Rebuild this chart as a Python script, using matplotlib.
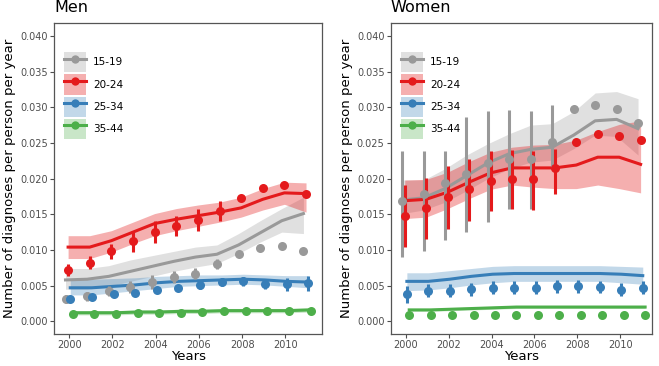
import numpy as np
import matplotlib
matplotlib.use("Agg")
import matplotlib.pyplot as plt
from matplotlib.patches import Patch
from matplotlib.lines import Line2D

nan = np.nan
years = np.arange(2000, 2012)
age_groups = ["15-19", "20-24", "25-34", "35-44"]
colori = ["#999999", "#e41a1c", "#377eb8", "#4daf4a"]

# ---- Men: observed points + error bars ----
men_obs_1519 = [0.0031, 0.0035, 0.0042, 0.0048, 0.0055, 0.0062, 0.0067, 0.0081, 0.0095, 0.0103, 0.0105, 0.0098]
men_elo_1519 = [0.0025, 0.0029, 0.0035, 0.0039, 0.0045, 0.0054, 0.0059, 0.0074, nan, nan, nan, nan]
men_ehi_1519 = [0.0037, 0.0041, 0.0049, 0.0057, 0.0065, 0.0070, 0.0075, 0.0088, nan, nan, nan, nan]
men_obs_2024 = [0.0072, 0.0082, 0.0098, 0.0112, 0.0125, 0.0133, 0.0142, 0.0155, 0.0173, 0.0187, 0.0191, 0.0179]
men_elo_2024 = [0.0063, 0.0073, 0.0087, 0.0097, 0.0110, 0.0119, 0.0127, 0.0141, nan, nan, nan, nan]
men_ehi_2024 = [0.0081, 0.0091, 0.0109, 0.0127, 0.0140, 0.0147, 0.0157, 0.0169, nan, nan, nan, nan]
men_obs_2534 = [0.0031, 0.0034, 0.0038, 0.0040, 0.0044, 0.0047, 0.0051, 0.0055, 0.0056, 0.0052, 0.0052, 0.0053]
men_elo_2534 = [0.0028, 0.0031, 0.0035, 0.0037, 0.0041, 0.0044, 0.0045, 0.0049, 0.0050, 0.0045, 0.0043, 0.0042]
men_ehi_2534 = [0.0034, 0.0037, 0.0041, 0.0043, 0.0047, 0.0050, 0.0057, 0.0061, 0.0062, 0.0059, 0.0061, 0.0064]
men_obs_3544 = [0.0010, 0.0010, 0.0010, 0.0011, 0.0011, 0.0012, 0.0013, 0.0014, 0.0014, 0.0014, 0.0014, 0.0014]

# ---- Men: model fit + band ----
men_fit_1519 = [0.0058, 0.0059, 0.0063, 0.0070, 0.0077, 0.0084, 0.0090, 0.0094, 0.0107, 0.0124, 0.0141, 0.0151]
men_blo_1519 = [0.0045, 0.0045, 0.0049, 0.0056, 0.0063, 0.0070, 0.0076, 0.0081, 0.0095, 0.0111, 0.0125, 0.0123]
men_bhi_1519 = [0.0074, 0.0074, 0.0078, 0.0086, 0.0092, 0.0098, 0.0104, 0.0107, 0.0123, 0.0141, 0.0158, 0.0174]
men_fit_2024 = [0.0104, 0.0104, 0.0113, 0.0125, 0.0137, 0.0143, 0.0148, 0.0153, 0.0159, 0.0171, 0.0180, 0.0179]
men_blo_2024 = [0.0088, 0.0088, 0.0097, 0.0109, 0.0120, 0.0127, 0.0133, 0.0139, 0.0146, 0.0156, 0.0164, 0.0153]
men_bhi_2024 = [0.0120, 0.0120, 0.0127, 0.0139, 0.0151, 0.0158, 0.0163, 0.0167, 0.0174, 0.0186, 0.0195, 0.0194]
men_fit_2534 = [0.0047, 0.0047, 0.0049, 0.0051, 0.0054, 0.0056, 0.0057, 0.0058, 0.0059, 0.0058, 0.0056, 0.0055]
men_blo_2534 = [0.0037, 0.0037, 0.0040, 0.0043, 0.0046, 0.0049, 0.0050, 0.0051, 0.0052, 0.0051, 0.0049, 0.0047]
men_bhi_2534 = [0.0059, 0.0059, 0.0060, 0.0061, 0.0063, 0.0064, 0.0065, 0.0065, 0.0066, 0.0065, 0.0064, 0.0064]
men_fit_3544 = [0.0012, 0.0012, 0.0012, 0.0013, 0.0013, 0.0014, 0.0014, 0.0015, 0.0015, 0.0015, 0.0015, 0.0016]
men_blo_3544 = [0.0009, 0.0009, 0.0009, 0.0010, 0.0010, 0.0011, 0.0011, 0.0012, 0.0012, 0.0012, 0.0012, 0.0013]
men_bhi_3544 = [0.0015, 0.0015, 0.0015, 0.0016, 0.0016, 0.0017, 0.0017, 0.0018, 0.0018, 0.0018, 0.0018, 0.0019]

# ---- Women: observed points + error bars ----
wom_obs_1519 = [0.0169, 0.0179, 0.0194, 0.0206, 0.0222, 0.0227, 0.0228, 0.0252, 0.0297, 0.0303, 0.0297, 0.0278]
wom_elo_1519 = [0.0090, 0.0099, 0.0114, 0.0125, 0.0139, 0.0158, 0.0158, 0.0216, nan, nan, nan, nan]
wom_ehi_1519 = [0.0239, 0.0239, 0.0239, 0.0286, 0.0295, 0.0296, 0.0295, 0.0303, nan, nan, nan, nan]
wom_obs_2024 = [0.0148, 0.0159, 0.0174, 0.0185, 0.0196, 0.0200, 0.0200, 0.0215, 0.0252, 0.0262, 0.0260, 0.0254]
wom_elo_2024 = [0.0104, 0.0116, 0.0130, 0.0141, 0.0155, 0.0158, 0.0156, 0.0179, nan, nan, nan, nan]
wom_ehi_2024 = [0.0191, 0.0201, 0.0217, 0.0228, 0.0239, 0.0240, 0.0238, 0.0242, nan, nan, nan, nan]
wom_obs_2534 = [0.0038, 0.0043, 0.0043, 0.0045, 0.0047, 0.0047, 0.0047, 0.0049, 0.0049, 0.0048, 0.0044, 0.0047]
wom_elo_2534 = [0.0026, 0.0034, 0.0034, 0.0036, 0.0038, 0.0038, 0.0038, 0.0040, 0.0040, 0.0039, 0.0035, 0.0038]
wom_ehi_2534 = [0.0050, 0.0052, 0.0052, 0.0054, 0.0056, 0.0056, 0.0056, 0.0058, 0.0058, 0.0057, 0.0053, 0.0056]
wom_obs_3544 = [0.0009, 0.0009, 0.0009, 0.0009, 0.0009, 0.0009, 0.0009, 0.0009, 0.0009, 0.0009, 0.0009, 0.0009]

# ---- Women: model fit + band ----
wom_fit_1519 = [0.0170, 0.0173, 0.0186, 0.0204, 0.0222, 0.0235, 0.0241, 0.0244, 0.0261, 0.0281, 0.0283, 0.0270]
wom_blo_1519 = [0.0151, 0.0156, 0.0167, 0.0183, 0.0200, 0.0214, 0.0223, 0.0226, 0.0242, 0.0261, 0.0259, 0.0233]
wom_bhi_1519 = [0.0198, 0.0198, 0.0214, 0.0233, 0.0249, 0.0263, 0.0275, 0.0277, 0.0294, 0.0320, 0.0322, 0.0312]
wom_fit_2024 = [0.0169, 0.0171, 0.0181, 0.0195, 0.0208, 0.0215, 0.0215, 0.0215, 0.0219, 0.0230, 0.0230, 0.0220]
wom_blo_2024 = [0.0144, 0.0146, 0.0158, 0.0172, 0.0185, 0.0191, 0.0188, 0.0186, 0.0186, 0.0191, 0.0186, 0.0180]
wom_bhi_2024 = [0.0198, 0.0199, 0.0209, 0.0224, 0.0237, 0.0244, 0.0247, 0.0248, 0.0254, 0.0266, 0.0276, 0.0281]
wom_fit_2534 = [0.0056, 0.0056, 0.0059, 0.0063, 0.0066, 0.0067, 0.0067, 0.0067, 0.0067, 0.0067, 0.0066, 0.0064]
wom_blo_2534 = [0.0043, 0.0044, 0.0047, 0.0051, 0.0054, 0.0056, 0.0056, 0.0056, 0.0056, 0.0056, 0.0054, 0.0052]
wom_bhi_2534 = [0.0068, 0.0068, 0.0071, 0.0074, 0.0077, 0.0078, 0.0078, 0.0078, 0.0078, 0.0078, 0.0077, 0.0076]
wom_fit_3544 = [0.0016, 0.0016, 0.0017, 0.0018, 0.0019, 0.0020, 0.0020, 0.0020, 0.0020, 0.0020, 0.0020, 0.0020]
wom_blo_3544 = [0.0014, 0.0014, 0.0015, 0.0016, 0.0017, 0.0018, 0.0018, 0.0018, 0.0018, 0.0018, 0.0018, 0.0018]
wom_bhi_3544 = [0.0018, 0.0018, 0.0019, 0.0020, 0.0021, 0.0022, 0.0022, 0.0022, 0.0022, 0.0022, 0.0022, 0.0022]

nan12 = [nan] * 12
men_series = [
    (men_obs_1519, men_elo_1519, men_ehi_1519, men_fit_1519, men_blo_1519, men_bhi_1519),
    (men_obs_2024, men_elo_2024, men_ehi_2024, men_fit_2024, men_blo_2024, men_bhi_2024),
    (men_obs_2534, men_elo_2534, men_ehi_2534, men_fit_2534, men_blo_2534, men_bhi_2534),
    (men_obs_3544, nan12, nan12, men_fit_3544, men_blo_3544, men_bhi_3544),
]
wom_series = [
    (wom_obs_1519, wom_elo_1519, wom_ehi_1519, wom_fit_1519, wom_blo_1519, wom_bhi_1519),
    (wom_obs_2024, wom_elo_2024, wom_ehi_2024, wom_fit_2024, wom_blo_2024, wom_bhi_2024),
    (wom_obs_2534, wom_elo_2534, wom_ehi_2534, wom_fit_2534, wom_blo_2534, wom_bhi_2534),
    (wom_obs_3544, nan12, nan12, wom_fit_3544, wom_blo_3544, wom_bhi_3544),
]

dodge = [-0.17, -0.05, 0.05, 0.16]
alpha_banda = [0.3, 0.35, 0.3, 0.3]
grigio = "#4d4d4d"


def disegna_pannello(ax, titolo, serie, xmax):
    for j, (obs, elo, ehi, fit, blo, bhi) in enumerate(serie):
        c = colori[j]
        x = years + dodge[j]
        ax.fill_between(x, blo, bhi, color=c, alpha=alpha_banda[j], lw=0, zorder=1)
        ax.plot(x, fit, color=c, lw=2.2, zorder=2)
    for j, (obs, elo, ehi, fit, blo, bhi) in enumerate(serie):
        c = colori[j]
        x = years + dodge[j]
        ax.vlines(x, elo, ehi, color=c, lw=2.2, zorder=3)
        ax.plot(x, obs, "o", color=c, ms=6.5, mec="none", zorder=4)

    ax.set_xlim(1999.3, xmax)
    ax.set_ylim(-0.0018, 0.0418)
    ax.set_xticks([2000, 2002, 2004, 2006, 2008, 2010])
    ax.set_yticks(np.arange(0, 0.0401, 0.005))
    ax.yaxis.set_major_formatter(matplotlib.ticker.FormatStrFormatter("%.3f"))
    ax.tick_params(labelsize=7, colors=grigio, length=3, width=0.8, pad=1.5)
    for s in ax.spines.values():
        s.set_color("#555555")
        s.set_linewidth(0.9)
    ax.set_xlabel("Years", fontsize=9.5, labelpad=0)
    ax.set_ylabel("Number of diagnoses per person per year", fontsize=9.5, labelpad=3)
    ax.set_title(titolo, loc="left", fontsize=11.5, pad=8)

    handles = []
    for j, c in enumerate(colori):
        handles.append((Patch(facecolor=c, alpha=alpha_banda[j], lw=0),
                        Line2D([], [], color=c, lw=2.2, marker="o", ms=6, mec="none")))
    ax.legend(handles, age_groups, loc="upper left", bbox_to_anchor=(0.01, 0.93),
              frameon=False, fontsize=7.5, handlelength=2.1, handleheight=2.6,
              labelspacing=0.2, handletextpad=0.7, borderaxespad=0.3)


fig = plt.figure(figsize=(6.59, 3.66), dpi=100)
ax1 = fig.add_axes([0.082, 0.087, 0.407, 0.85])
ax2 = fig.add_axes([0.593, 0.087, 0.397, 0.85])
disegna_pannello(ax1, "Men", men_series, 2011.7)
disegna_pannello(ax2, "Women", wom_series, 2011.5)
fig.savefig("out.png", dpi=100)
